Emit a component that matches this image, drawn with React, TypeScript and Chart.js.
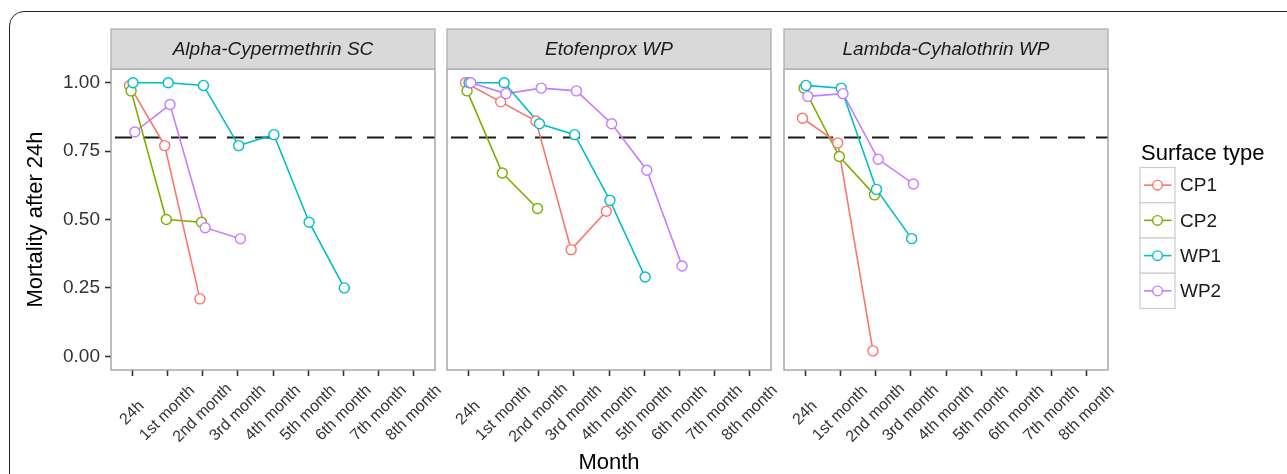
import React, { useEffect, useRef } from 'react';
import { Chart, registerables } from 'chart.js';

Chart.register(...registerables);

// ---------- data ----------
const MONTHS = ['24h', '1st month', '2nd month', '3rd month', '4th month', '5th month', '6th month', '7th month', '8th month'];
const PANELS = ['Alpha-Cypermethrin SC', 'Etofenprox WP', 'Lambda-Cyhalothrin WP'];
const SURFACES = ['CP1', 'CP2', 'WP1', 'WP2'];
const Y_TICKS = [0, 0.25, 0.5, 0.75, 1];
const THRESHOLD = 0.8;

const ALPHA_CP1 = [0.99, 0.77, 0.21];
const ALPHA_CP2 = [0.97, 0.50, 0.49];
const ALPHA_WP1 = [1.00, 1.00, 0.99, 0.77, 0.81, 0.49, 0.25];
const ALPHA_WP2 = [0.82, 0.92, 0.47, 0.43];

const ETOF_CP1 = [1.00, 0.93, 0.86, 0.39, 0.53];
const ETOF_CP2 = [0.97, 0.67, 0.54];
const ETOF_WP1 = [1.00, 1.00, 0.85, 0.81, 0.57, 0.29];
const ETOF_WP2 = [1.00, 0.96, 0.98, 0.97, 0.85, 0.68, 0.33];

const LAMBDA_CP1 = [0.87, 0.78, 0.02];
const LAMBDA_CP2 = [0.98, 0.73, 0.59];
const LAMBDA_WP1 = [0.99, 0.98, 0.61, 0.43];
const LAMBDA_WP2 = [0.95, 0.96, 0.72, 0.63];

const DATA = [
  [ALPHA_CP1, ALPHA_CP2, ALPHA_WP1, ALPHA_WP2],
  [ETOF_CP1, ETOF_CP2, ETOF_WP1, ETOF_WP2],
  [LAMBDA_CP1, LAMBDA_CP2, LAMBDA_WP1, LAMBDA_WP2],
];

// ---------- styles / layout ----------
const COLORS = ['#F8766D', '#7CAE00', '#00BFC4', '#C77CFF'];
const DODGE = [-0.075, -0.03, 0.025, 0.075];
const W = 1287;
const H = 474;
const PANEL_LEFT = [111, 447, 784];
const PANEL_W = 324;
const PLOT_TOP = 69;
const PLOT_BOTTOM = 370;
const STRIP_TOP = 29;
const FONT = "'Liberation Sans', Arial, Helvetica, sans-serif";

function panelPlugin(p: number) {
  return {
    id: 'panelDeco' + p,
    beforeDatasetsDraw(chart: any) {
      const { ctx, chartArea: a, scales } = chart;
      const y = scales.y.getPixelForValue(THRESHOLD);
      ctx.save();
      ctx.strokeStyle = '#1a1a1a';
      ctx.lineWidth = 2;
      ctx.setLineDash([17, 11]);
      ctx.lineDashOffset = -4;
      ctx.beginPath();
      ctx.moveTo(a.left, y);
      ctx.lineTo(a.right, y);
      ctx.stroke();
      ctx.restore();
    },
    afterDraw(chart: any) {
      const { ctx, chartArea: a, scales } = chart;
      ctx.save();
      // panel border
      ctx.strokeStyle = '#9c9c9c';
      ctx.lineWidth = 1.3;
      ctx.strokeRect(a.left, a.top, a.right - a.left, a.bottom - a.top);
      // strip
      ctx.fillStyle = '#D9D9D9';
      ctx.fillRect(a.left, STRIP_TOP, a.right - a.left, a.top - STRIP_TOP);
      ctx.strokeStyle = '#ababab';
      ctx.lineWidth = 1.2;
      ctx.strokeRect(a.left, STRIP_TOP, a.right - a.left, a.top - STRIP_TOP);
      ctx.fillStyle = '#1a1a1a';
      ctx.font = `italic 19px ${FONT}`;
      ctx.textAlign = 'center';
      ctx.textBaseline = 'alphabetic';
      ctx.fillText(PANELS[p], (a.left + a.right) / 2, 55);
      // rotated x tick labels, centred on the tick
      const xs = scales.x;
      ctx.font = `16px ${FONT}`;
      ctx.fillStyle = '#333333';
      ctx.textAlign = 'center';
      ctx.textBaseline = 'middle';
      MONTHS.forEach((m, i) => {
        const x = xs.getPixelForValue(i);
        ctx.save();
        ctx.translate(x, 413);
        ctx.rotate(-Math.PI / 4);
        ctx.fillText(m, 0, 0);
        ctx.restore();
      });
      // legend (drawn with the last panel)
      if (p === PANELS.length - 1) {
        ctx.fillStyle = '#000';
        ctx.font = `22px ${FONT}`;
        ctx.textAlign = 'left';
        ctx.textBaseline = 'alphabetic';
        ctx.fillText('Surface type', 1141, 160);
        const rowH = 35.25;
        const top0 = 167.5;
        SURFACES.forEach((s, i) => {
          const top = top0 + i * rowH;
          ctx.fillStyle = '#fff';
          ctx.fillRect(1140, top, 35, rowH);
          ctx.strokeStyle = '#cccccc';
          ctx.lineWidth = 1.2;
          ctx.strokeRect(1140, top, 35, rowH);
          const cy = top + rowH / 2;
          ctx.strokeStyle = COLORS[i];
          ctx.lineWidth = 1.6;
          ctx.beginPath();
          ctx.moveTo(1144, cy);
          ctx.lineTo(1171.5, cy);
          ctx.stroke();
          ctx.beginPath();
          ctx.arc(1157.5, cy, 4.8, 0, Math.PI * 2);
          ctx.fillStyle = '#fff';
          ctx.fill();
          ctx.lineWidth = 1.4;
          ctx.stroke();
          ctx.fillStyle = '#1a1a1a';
          ctx.font = `19px ${FONT}`;
          ctx.textBaseline = 'middle';
          ctx.fillText(s, 1180, cy + 1);
          ctx.textBaseline = 'alphabetic';
        });
      }
      ctx.restore();
    },
  };
}

function makeConfig(p: number): any {
  const series = DATA[p];
  const lineSets = series.map((vals, s) => ({
    label: SURFACES[s] + ' line',
    data: vals.map((v, i) => ({ x: i + DODGE[s], y: v })),
    borderColor: COLORS[s],
    borderWidth: 1.6,
    pointRadius: 0,
    showLine: true,
    fill: false,
    tension: 0,
    order: 1,
  }));
  const pointSets = series
    .map((vals, s) => ({
      label: SURFACES[s],
      data: vals.map((v, i) => ({ x: i + DODGE[s], y: v })),
      borderColor: COLORS[s],
      backgroundColor: '#ffffff',
      pointRadius: 5,
      pointBorderWidth: 1.4,
      pointBackgroundColor: '#ffffff',
      pointBorderColor: COLORS[s],
      showLine: false,
      order: 0,
    }))
    .reverse();

  const isFirst = p === 0;
  const left = isFirst ? 0 : PANEL_LEFT[p];
  const right = W - (PANEL_LEFT[p] + PANEL_W);

  return {
    type: 'line',
    data: { datasets: [...lineSets, ...pointSets] },
    options: {
      animation: false,
      responsive: false,
      devicePixelRatio: 1,
      events: [],
      layout: { padding: { left, right, top: PLOT_TOP, bottom: 0 } },
      plugins: {
        legend: { display: false },
        tooltip: { enabled: false },
        title: { display: false },
      },
      scales: {
        x: {
          type: 'linear',
          min: -0.6,
          max: MONTHS.length - 1 + 0.6,
          afterBuildTicks: (scale: any) => {
            scale.ticks = MONTHS.map((_, i) => ({ value: i }));
          },
          afterFit: (scale: any) => {
            scale.height = H - PLOT_BOTTOM;
          },
          border: { display: false },
          grid: {
            drawOnChartArea: false,
            drawTicks: true,
            tickLength: 6,
            tickWidth: 1.6,
            tickColor: '#333333',
          },
          ticks: { display: false },
          title: {
            display: p === 1,
            text: 'Month',
            color: '#000',
            font: { family: FONT, size: 22, lineHeight: 1 },
            padding: { top: 0, bottom: 0 },
          },
        },
        y: {
          type: 'linear',
          display: isFirst,
          min: -0.05,
          max: 1.05,
          afterBuildTicks: (scale: any) => {
            scale.ticks = Y_TICKS.map((v) => ({ value: v }));
          },
          afterFit: (scale: any) => {
            scale.width = isFirst ? PANEL_LEFT[0] : 0;
          },
          border: { display: false },
          grid: {
            drawOnChartArea: false,
            drawTicks: true,
            tickLength: 6,
            tickWidth: 1.6,
            tickColor: '#333333',
          },
          ticks: {
            padding: 5,
            color: '#333333',
            font: { family: FONT, size: 19 },
            callback: (v: any) => Number(v).toFixed(2),
          },
          title: {
            display: true,
            text: 'Mortality after 24h',
            color: '#000',
            font: { family: FONT, size: 22, lineHeight: 1 },
            padding: { top: 25, bottom: 0 },
          },
        },
      },
    },
    plugins: [panelPlugin(p)],
  };
}

export default function App() {
  const r0 = useRef<HTMLCanvasElement>(null);
  const r1 = useRef<HTMLCanvasElement>(null);
  const r2 = useRef<HTMLCanvasElement>(null);
  const refs = [r0, r1, r2];

  useEffect(() => {
    const charts = refs.map((r, p) => new Chart(r.current as HTMLCanvasElement, makeConfig(p)));
    return () => charts.forEach((c) => c.destroy());
  }, []);

  return (
    <div style={{ position: 'absolute', left: 0, top: 0, width: W, height: H, overflow: 'hidden', background: '#fff' }}>
      <div
        style={{
          position: 'absolute',
          left: 9,
          top: 11,
          width: 1400,
          height: 700,
          border: '1.3px solid #222',
          borderTopLeftRadius: 15,
          boxSizing: 'border-box',
        }}
      />
      {refs.map((r, p) => (
        <canvas
          key={p}
          ref={r}
          width={W}
          height={H}
          style={{ position: 'absolute', left: 0, top: 0, width: W, height: H }}
        />
      ))}
    </div>
  );
}
